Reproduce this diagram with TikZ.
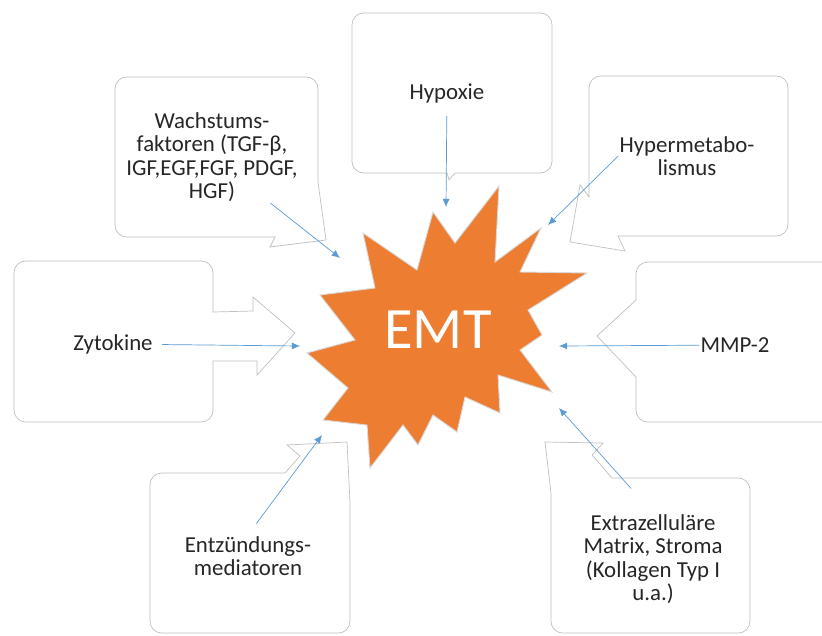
\documentclass[tikz,border=0pt]{standalone}
\usepackage{fontspec}
\setmainfont{Carlito}
\usepackage{xcolor}
\usetikzlibrary{arrows.meta}

\definecolor{burstorange}{HTML}{ED7D31}
\definecolor{linkblue}{HTML}{5B9BD5}
\definecolor{bubblegray}{HTML}{BFBFBF}

\tikzset{
    bubble/.style={draw=bubblegray, line width=0.6pt},
    label/.style={align=center, text=black!85, inner sep=1pt, font=\fontsize{19.5}{20}\selectfont},
    link/.style={draw=linkblue, line width=0.6pt, -{Latex[length=7pt,width=6pt]}}
}

\begin{document}
\begin{tikzpicture}[x=0.03cm, y=-0.03cm]
    \useasboundingbox (0,0) rectangle (822,635);

    % Callout boxes
    \draw[bubble] (275,237) [rounded corners=10pt] -- (115,237) -- (115,77) -- (318,77) [sharp corners] -- (318,182) -- (326,240) -- (270,247) -- cycle;
    \draw[bubble] (455,173) [rounded corners=10pt] -- (552,173) -- (552,13) -- (352,13) -- (352,173) [sharp corners] -- (447,173) -- (449,180) -- cycle;
    \draw[bubble] (618,236) [rounded corners=10pt] -- (788,236) -- (788,76) -- (589,76) [sharp corners] -- (589,197) -- (580,185) -- (570,242) -- (625,251) -- cycle;
    \draw[bubble] (213,361) [rounded corners=10pt] -- (213,422) -- (14,422) -- (14,261) -- (213,261) [sharp corners] -- (213,312) -- (253,311) -- (253,297) -- (295,333) -- (257,375) -- (257,361) -- cycle;
    \draw[bubble] (822,422) [rounded corners=10pt] -- (636,422) [sharp corners] -- (636,377) -- (597,336) -- (636,300) [rounded corners=10pt] -- (636,262) -- (822,262);
    \draw[bubble] (285,473) [rounded corners=10pt] -- (150,473) -- (150,633) -- (350,633) [sharp corners] -- (350,502) -- (347,442) -- (287,445) -- (300,456) -- cycle;
    \draw[bubble] (612,478) [rounded corners=10pt] -- (750,478) -- (750,633) -- (551,633) [sharp corners] -- (551,493) -- (545,442) -- (603,443) -- (592,455) -- cycle;

    % Starburst
    \draw[fill=burstorange, draw=black!15, line width=0.8pt]
        (320,295) -- (375,288) -- (363,233) -- (417,270) -- (433,212) -- (455,243)
        -- (499,186) -- (495,262) -- (541,228) -- (520,272) -- (587,273) -- (528,310)
        -- (542,335) -- (520,350) -- (552,392) -- (498,375) -- (500,413) -- (465,397)
        -- (457,432) -- (433,415) -- (418,445) -- (403,425) -- (370,468) -- (367,425)
        -- (323,420) -- (348,388) -- (307,353) -- (355,340) -- cycle;
    \node[text=white, font=\fontsize{50}{50}\selectfont] (emt) at (438,330) {EMT};

    % Factors
    \node[label] (wachs) at (212,157) {Wachstums-\\faktoren (TGF-β,\\IGF,EGF,FGF, PDGF,\\HGF)};
    \node[label] (hypo) at (447,93) {Hypoxie};
    \node[label] (hyper) at (687,156) {Hypermetabo-\\lismus};
    \node[label] (zyto) at (113,344) {Zytokine};
    \node[label] (mmp) at (735,345) {MMP-2};
    \node[label] (entz) at (248,556) {Entzündungs-\\mediatoren};
    \node[label] (extra) at (653,559) {Extrazelluläre\\Matrix, Stroma\\(Kollagen Typ I\\u.a.)};

    % Arrow targets
    \coordinate (wachs-in) at (340,258);
    \coordinate (hypo-in) at (446,207);
    \coordinate (hyper-in) at (548,225);
    \coordinate (zyto-in) at (300,346);
    \coordinate (mmp-in) at (559,346);
    \coordinate (entz-in) at (322,435);
    \coordinate (extra-in) at (559,408);

    \draw[link] (wachs) -- (wachs-in);
    \draw[link, shorten <=10pt] (hypo) -- (hypo-in);
    \draw[link] (hyper.west) -- (hyper-in);
    \draw[link, shorten <=7pt] (zyto) -- (zyto-in);
    \draw[link] (mmp) -- (mmp-in);
    \draw[link, shorten <=12pt] (entz.north) -- (entz-in);
    \draw[link, shorten <=28pt] (extra.north) -- (extra-in);

\end{tikzpicture}
\end{document}
